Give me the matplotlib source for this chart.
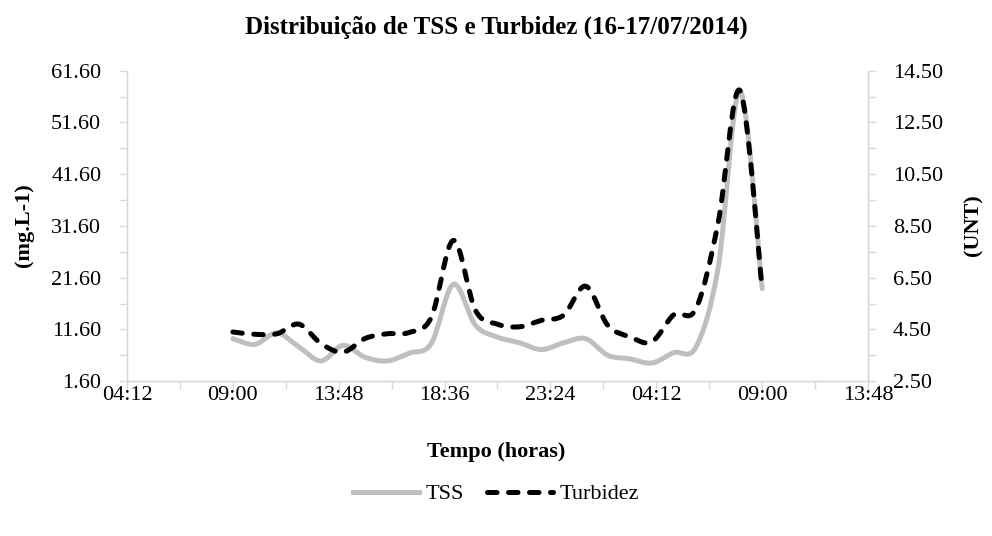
import numpy as np
import matplotlib
matplotlib.use("Agg")
import matplotlib.pyplot as plt
from matplotlib.path import Path
from matplotlib.patches import PathPatch
from matplotlib.lines import Line2D
from matplotlib.ticker import FuncFormatter

plt.rcParams['font.family'] = ['Liberation Serif', 'DejaVu Serif']

# hourly samples, 16/07 09:00 -> 17/07 09:00
horas = ["09:00", "10:00", "11:00", "12:00", "13:00", "14:00", "15:00", "16:00",
         "17:00", "18:00", "19:00", "20:00", "21:00", "22:00", "23:00", "00:00",
         "01:00", "02:00", "03:00", "04:00", "05:00", "06:00", "07:00", "08:00",
         "09:00"]
tss = [9.8, 8.7, 10.9, 8.2, 5.5, 8.5, 6.2, 5.5, 7.0, 8.9, 20.3, 12.4, 10.1,
       9.0, 7.7, 9.0, 9.8, 6.6, 5.9, 5.1, 7.1, 8.2, 23.4, 57.7, 19.5]
turbidez = [4.40, 4.31, 4.33, 4.70, 3.95, 3.62, 4.15, 4.33, 4.38, 4.97, 7.94,
            5.24, 4.70, 4.60, 4.85, 5.05, 6.17, 4.66, 4.21, 4.02, 5.07, 5.30,
            8.60, 13.73, 6.08]


def to_hours(labels):
    # hours since midnight of the first day, rolling over at midnight
    out, day, prev = [], 0, -1
    for s in labels:
        h, m = map(int, s.split(":"))
        t = h + m / 60
        if t < prev:
            day += 24
        prev = t
        out.append(t + day)
    return out


def smooth_path(x, y):
    # cubic bezier through every point, like a spreadsheet "smoothed line"
    p = np.column_stack([x, y])
    n = len(p)
    verts = [p[0]]
    codes = [Path.MOVETO]
    for i in range(n - 1):
        p0 = p[i - 1] if i > 0 else p[i]
        p3 = p[i + 2] if i + 2 < n else p[i + 1]
        c1 = p[i] + (p[i + 1] - p0) / 6
        c2 = p[i + 1] - (p3 - p[i]) / 6
        verts += [c1, c2, p[i + 1]]
        codes += [Path.CURVE4] * 3
    return Path(verts, codes)


def hhmm(v, pos):
    m = int(round(v * 60)) % (24 * 60)
    return f"{m // 60:02d}:{m % 60:02d}"


t = to_hours(horas)
grid_col = "#d9d9d9"
dash = (0, (1.9, 2.3))

fig = plt.figure(figsize=(9.92, 5.36), dpi=100)
ax = fig.add_axes([0.128, 0.289, 0.747, 0.579])
ax2 = ax.twinx()

ax.add_patch(PathPatch(smooth_path(t, tss), facecolor="none",
                       edgecolor="#bfbfbf", lw=3.6, capstyle="round",
                       joinstyle="round"))
ax2.add_patch(PathPatch(smooth_path(t, turbidez), facecolor="none",
                        edgecolor="black", lw=3.6, linestyle=dash,
                        capstyle="round", joinstyle="round"))

ax.set_xlim(4.2, 37.8)
ax.set_ylim(1.6, 61.6)
ax2.set_ylim(2.5, 14.5)

ax.set_xticks(np.arange(4.2, 37.81, 4.8))
ax.set_xticks(np.arange(4.2, 37.81, 2.4), minor=True)
ax.xaxis.set_major_formatter(FuncFormatter(hhmm))
ax.set_yticks(np.arange(1.6, 61.61, 10))
ax.set_yticks(np.arange(1.6, 61.61, 5), minor=True)
ax.yaxis.set_major_formatter(FuncFormatter(lambda v, p: f"{v:.2f}"))
ax2.set_yticks(np.arange(2.5, 14.51, 2))
ax2.set_yticks(np.arange(2.5, 14.51, 1), minor=True)
ax2.yaxis.set_major_formatter(FuncFormatter(lambda v, p: f"{v:.2f}"))

for a in (ax, ax2):
    for side in ("left", "right", "bottom"):
        a.spines[side].set_color(grid_col)
        a.spines[side].set_linewidth(1.0)
    a.spines["top"].set_visible(False)
    a.tick_params(which="both", direction="out", length=5.5, width=1.0,
                  color=grid_col, labelsize=16, labelcolor="black")
ax.tick_params(axis="y", pad=13)
ax2.tick_params(axis="y", pad=12.5)
ax.tick_params(axis="x", pad=-2)

fig.text(0.5, 1 - 27 / 536, "Distribuição de TSS e Turbidez (16-17/07/2014)",
         fontsize=18, fontweight="bold", ha="center", va="center")
fig.text(0.5, 1 - 452 / 536, "Tempo (horas)", fontsize=16,
         fontweight="bold", ha="center", va="center")
fig.text(24 / 992, 1 - 225 / 536, "(mg.L-1)", fontsize=16, fontweight="bold",
         ha="center", va="center", rotation=90)
fig.text(973 / 992, 1 - 225 / 536, "(UNT)", fontsize=16, fontweight="bold",
         ha="center", va="center", rotation=90)

handles = [Line2D([], [], color="#bfbfbf", lw=3.6),
           Line2D([], [], color="black", lw=3.6, linestyle=dash,
                  dash_capstyle="round")]
fig.legend(handles, ["TSS", "Turbidez"], loc="center", ncol=2,
           bbox_to_anchor=(0.5, 1 - 494 / 536), frameon=False, fontsize=16,
           handlelength=3.0, columnspacing=1.0, handletextpad=0.3)

fig.savefig("out.png", dpi=100)
